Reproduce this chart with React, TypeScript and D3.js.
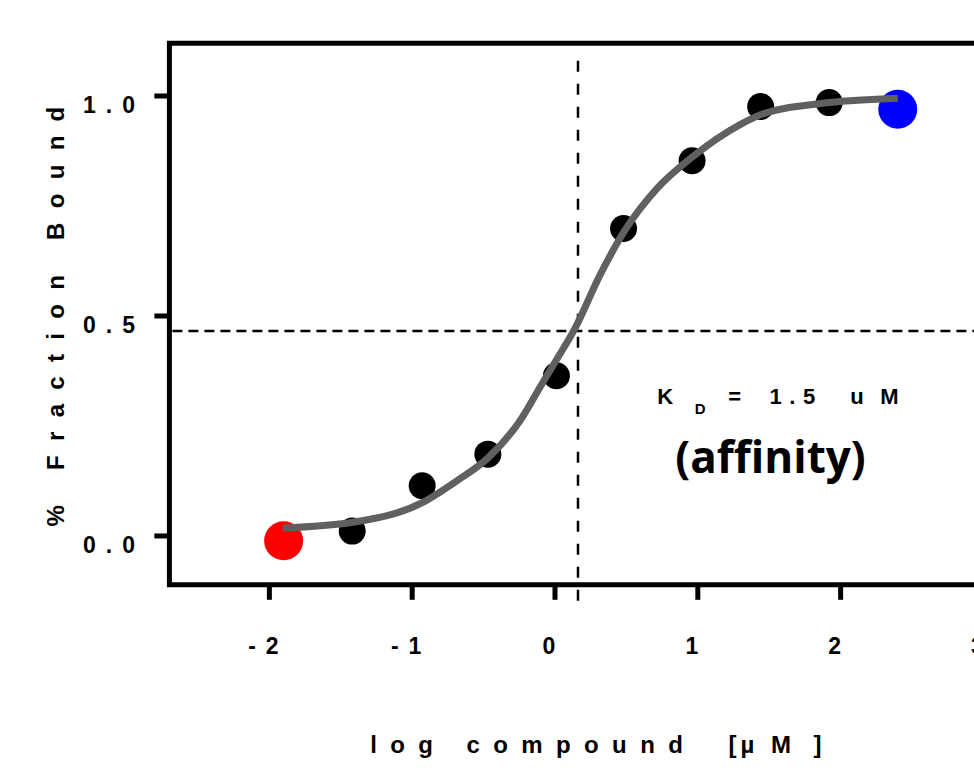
import React from 'react';
import * as d3 from 'd3';

// measured binding data (log concentration in µM vs fraction bound)
const logConc = [-1.90, -1.42, -0.93, -0.47, 0.01, 0.48, 0.96, 1.44, 1.92, 2.40];
const fractionBound = [-0.011, 0.011, 0.114, 0.186, 0.364, 0.699, 0.853, 0.976, 0.985, 0.970];

// fitted curve
const fitLogConc = [-1.905, -1.417, -0.933, -0.688, -0.467, -0.245, -0.105, 0.0, 0.14, 0.315, 0.49, 0.712, 0.964, 1.296, 1.443, 1.921, 2.4];
const fitFraction = [0.018, 0.031, 0.075, 0.125, 0.178, 0.262, 0.338, 0.395, 0.472, 0.593, 0.695, 0.789, 0.862, 0.935, 0.958, 0.985, 0.995];

const xTicks = [-2, -1, 0, 1, 2, 3];
const yTicks = [0, 0.5, 1.0];

const kdLog = 0.161;
const halfFraction = 0.466;

const yTitle = '% Fraction Bound';

const FONT = "'Liberation Sans', Arial, Helvetica, sans-serif";

export default function App() {
  const W = 974;
  const H = 768;
  const x = d3.scaleLinear().domain([-2.7, 3.2]).range([169.4, 1012]);
  const y = d3.scaleLinear().domain([-0.111, 1.12]).range([584.8, 43.2]);

  const line = d3
    .line<number>()
    .x((d) => x(d))
    .y((_, i) => y(fitFraction[i]))
    .curve(d3.curveMonotoneX);

  const x0 = x.range()[0];
  const x1 = x.range()[1];
  const yTop = y.range()[1];
  const yBot = y.range()[0];
  const fmt = d3.format('.1f');

  return (
    <svg
      width={W}
      height={H}
      style={{ position: 'absolute', left: 0, top: 0, background: '#fff' }}
      fontFamily={FONT}
      fontWeight="bold"
    >
      <rect x={0} y={0} width={W} height={H} fill="#fff" />

      {/* dashed guide lines */}
      <line
        x1={x(kdLog)}
        x2={x(kdLog)}
        y1={y(1.08)}
        y2={y(-0.152)}
        stroke="#000"
        strokeWidth={2.5}
        strokeDasharray="11 12"
      />
      <line
        x1={x0 + 3}
        x2={x1}
        y1={y(halfFraction)}
        y2={y(halfFraction)}
        stroke="#000"
        strokeWidth={2.5}
        strokeDasharray="10 6"
      />

      {/* points */}
      {logConc.map((v, i) => {
        const end = i === 0 || i === logConc.length - 1;
        const color = i === 0 ? '#ff0000' : i === logConc.length - 1 ? '#0000ff' : '#000';
        return <circle key={i} cx={x(v)} cy={y(fractionBound[i])} r={end ? 19.5 : 13.5} fill={color} />;
      })}

      {/* fit curve */}
      <path d={line(fitLogConc) || ''} fill="none" stroke="#606060" strokeWidth={7} strokeLinecap="butt" />

      {/* axes box */}
      <path
        d={`M${x1},${yTop} H${x0} V${yBot} H${x1}`}
        fill="none"
        stroke="#000"
        strokeWidth={5}
        strokeLinejoin="miter"
        strokeLinecap="square"
      />

      {/* y ticks */}
      {yTicks.map((t) => (
        <g key={t}>
          <line x1={x0 - 15} x2={x0} y1={y(t)} y2={y(t)} stroke="#000" strokeWidth={5} />
          <text x={135 + 10} y={y(t) + 17.5} textAnchor="end" fontSize={23} letterSpacing={10} fill="#000">
            {fmt(t)}
          </text>
        </g>
      ))}

      {/* x ticks */}
      {xTicks.map((t) => (
        <g key={t}>
          <line x1={x(t)} x2={x(t)} y1={yBot} y2={yBot + 15} stroke="#000" strokeWidth={5} />
          <text x={x(t) - 1} y={653.5} textAnchor="middle" fontSize={23} letterSpacing={10} fill="#000">
            {t < 0 ? '-' + Math.abs(t) : String(t)}
          </text>
        </g>
      ))}

      {/* y title */}
      <g transform={`translate(63.5, ${316.5 - 7})`}>
        <text transform="rotate(-90)" textAnchor="middle" fontSize={24} letterSpacing={14.3} fill="#000">
          {yTitle}
        </text>
      </g>

      {/* x title */}
      <text y={752.5} fontSize={24} fill="#000">
        <tspan x={370.2} letterSpacing={13.4}>log compound</tspan>
        <tspan x={728.5}>[</tspan>
        <tspan x={740.5}>µ</tspan>
        <tspan x={771}>M</tspan>
        <tspan x={813.5}>]</tspan>
      </text>

      {/* KD annotation */}
      <text y={403.5} fontSize={22} fill="#000">
        <tspan x={657.3}>K</tspan>
        <tspan x={694.8} y={413.5} fontSize={15}>D</tspan>
        <tspan x={728.3} y={403.5}>=</tspan>
        <tspan x={769.6} letterSpacing={7.5}>1.5</tspan>
        <tspan x={850.3}>u</tspan>
        <tspan x={880.2}>M</tspan>
      </text>
      <text
        x={770.5}
        y={473}
        textAnchor="middle"
        fontSize={44}
        fontFamily="'Open Sans', 'Noto Sans', sans-serif"
        fontWeight="bold"
        fill="#000"
      >
        (affinity)
      </text>
    </svg>
  );
}
